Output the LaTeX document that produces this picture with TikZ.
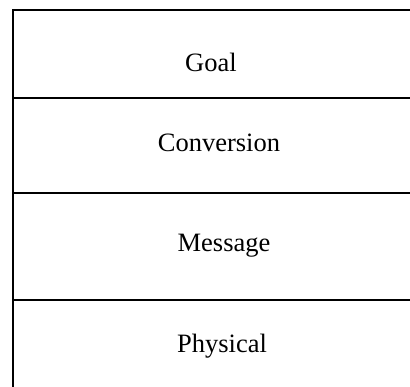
\documentclass[tikz,border=0pt]{standalone}
\usepackage{fontspec}
\setmainfont{Liberation Serif}
\usepackage{tikz}
\tikzset{
  layer/.style={anchor=base, inner sep=0pt, font=\fontsize{26.5}{31}\selectfont},
  rule/.style={line width=1.6pt, line cap=rect}
}

\begin{document}
\begin{tikzpicture}[x=1pt,y=1pt]
  \useasboundingbox (0,0) rectangle (410,387);

  % layer names, base lines from top to bottom
  \foreach \x/\y/\name/\label in {211/315/goal/Goal,219/235/conv/Conversion,224/135/msg/Message,222/34/phys/Physical}
    {\node[layer] (\name) at (\x,\y) {\label};}

  % frame: left side open at the bottom, no right side
  \coordinate (topleft) at (13,377);
  \coordinate (botleft) at (13,0);
  \draw[rule] (410,377) -- (topleft) -- (botleft);
  \foreach \y in {289,194,87}
    {\draw[rule] (13,\y) -- (410,\y);}
\end{tikzpicture}
\end{document}
